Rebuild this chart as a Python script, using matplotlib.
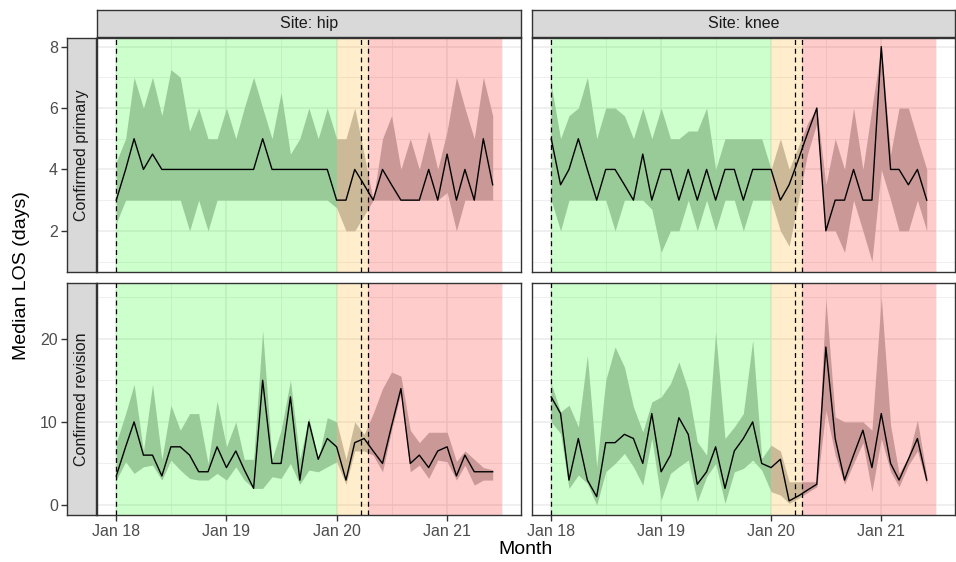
import numpy as np
import pandas as pd
import matplotlib
matplotlib.use("Agg")
import matplotlib.pyplot as plt
import matplotlib.dates as mdates
from matplotlib.ticker import FixedLocator

plt.rcParams["font.family"] = ["Liberation Sans", "DejaVu Sans"]

# monthly series, Jan 2018 - Jun 2021
months = pd.date_range("2018-01-01", periods=42, freq="MS")

sites = ["hip", "knee"]
procedures = ["Confirmed primary", "Confirmed revision"]

# median LOS with lower / upper band (days)
hip_primary_med = [3, 4, 5, 4, 4.5, 4, 4, 4, 4, 4, 4, 4, 4, 4, 4, 4, 5, 4, 4, 4, 4,
                   4, 4, 4, 3, 3, 4, 3.5, 3, 4, 3.5, 3, 3, 3, 4, 3, 4.5, 3, 4, 3, 5, 3.5]
hip_primary_lo = [2.25, 3, 3, 3, 3, 3, 3, 3, 2, 3, 2, 3, 3, 3, 3, 3, 3, 3, 3, 3, 3,
                  3, 3, 3, 2.75, 2, 2, 2.5, 3, 3, 3, 3, 3, 3, 3, 3, 3.25, 2, 3, 3, 3, 3]
hip_primary_hi = [4.25, 5, 7, 6, 7, 5.75, 7.25, 7, 5.25, 6, 5, 5, 6, 5, 6, 7, 6, 5, 6.5, 4.5, 5,
                  6, 5, 6, 5, 5, 6, 4.5, 3, 5, 5.75, 4, 5, 4, 5.25, 4, 5.25, 7, 6, 5, 7, 5.75]

knee_primary_med = [5, 3.5, 4, 5, 4, 3, 4, 4, 3.5, 3, 4.5, 3, 4, 4, 3, 4, 3, 4, 3, 4, 4,
                    3, 4, 4, 4, 3, 3.5, 4.33, 5.17, 6, 2, 3, 3, 4, 3, 3, 8, 4, 4, 3.5, 4, 3]
knee_primary_lo = [3, 2, 3, 3, 3, 3, 3, 2, 3, 3, 3, 2.7, 1.3, 2, 2, 3, 2, 3, 2, 3, 3,
                   2, 3, 3, 3, 2, 1.5, 3, 4.5, 5.5, 2, 2, 1.3, 3, 2, 1, 4, 3, 2, 2, 3, 2]
knee_primary_hi = [6.75, 5, 5.75, 6, 7, 5, 6, 6, 5.75, 5, 6, 5, 6, 5, 5, 5.25, 5.25, 6, 4, 5, 5,
                   5, 5, 5, 4, 5, 4, 4.75, 5.5, 6, 3.5, 5, 4, 6, 4, 6, 8, 4.5, 6, 6, 5, 4]

hip_revision_med = [3.5, 7, 10, 6, 6, 3.5, 7, 7, 6, 4, 4, 7, 4.5, 6.5, 4.25, 2, 15, 5, 5, 13, 3,
                    10, 5.5, 8, 7, 3, 7.5, 8, 6.5, 5, 9.5, 14, 5, 6, 4.5, 6.5, 7, 3.5, 6, 4, 4, 4]
hip_revision_lo = [3, 5.2, 3.8, 4.6, 4.8, 3, 5.4, 4.2, 3.2, 3, 3, 3.8, 3, 4.6, 3, 2, 2, 3.4, 3.2, 5, 2.5,
                   4.2, 4, 4.6, 5.2, 2.5, 6.5, 6.5, 6, 4, 9, 13.5, 4, 4.8, 3.2, 5.4, 5.2, 3, 4.8, 2.4, 3, 3]
hip_revision_hi = [7.5, 11, 14.5, 6.5, 14.5, 5.5, 12, 9, 11, 11, 5, 12.5, 7, 10, 5.5, 5.5, 21, 5.5, 9, 15, 5.5,
                   10.5, 5.5, 10.5, 10, 5.5, 10, 8.5, 11, 14, 16, 15.5, 9, 7.5, 8.75, 8.75, 8.75, 5.25, 6.5, 5.5, 4.5, 4.25]

knee_revision_med = [13, 11, 3, 8, 3, 1, 7.5, 7.5, 8.5, 8, 5, 11, 4, 6, 10.5, 8.5, 2.5, 4, 7, 2, 6.5,
                     8, 10, 5, 4.5, 5.5, 0.5, 1.1, 1.8, 2.5, 19, 8, 3, 6, 9, 4.5, 11, 5, 3, 5.5, 8, 3]
knee_revision_lo = [10, 8.6, 2, 3.6, 2.6, 0, 4, 5, 6.2, 4.6, 2.4, 8, 0.6, 3.8, 4.6, 5.4, 0.4, 3.4, 5, 0.2, 4,
                    4.4, 5.4, 4.2, 1.6, 1.2, 0.2, 0.8, 1.5, 2.2, 11.4, 6, 2.5, 5, 7.5, 1.6, 8, 4, 2.2, 4.8, 6.5, 2.5]
knee_revision_hi = [14.6, 11.2, 12, 9.4, 18, 4.6, 15, 19, 16.6, 11.8, 8.8, 12.4, 13, 14.6, 17.2, 13.8, 7.6, 6, 20.8, 8, 9.4,
                    11, 19.8, 5.6, 7.2, 6.5, 2.8, 2.8, 2.8, 2.8, 24.8, 10.6, 10, 10, 10, 9, 25, 9.6, 3.8, 5.8, 10.2, 3.5]

series = {
    ("Confirmed primary", "hip"): (hip_primary_med, hip_primary_lo, hip_primary_hi),
    ("Confirmed primary", "knee"): (knee_primary_med, knee_primary_lo, knee_primary_hi),
    ("Confirmed revision", "hip"): (hip_revision_med, hip_revision_lo, hip_revision_hi),
    ("Confirmed revision", "knee"): (knee_revision_med, knee_revision_lo, knee_revision_hi),
}

# periods: before covid, first wave, after
period_start = pd.Timestamp("2018-01-01")
wave_start = pd.Timestamp("2020-01-01")
lockdown = pd.Timestamp("2020-03-22")
recovery = pd.Timestamp("2020-04-14")
period_end = pd.Timestamp("2021-07-01")

row_ylim = {"Confirmed primary": (0.66, 8.28), "Confirmed revision": (-1.2, 26.7)}
row_major = {"Confirmed primary": [2, 4, 6, 8], "Confirmed revision": [0, 10, 20]}
row_minor = {"Confirmed primary": [1, 3, 5, 7], "Confirmed revision": [5, 15, 25]}

W, H = 956, 562
fig = plt.figure(figsize=(W / 100, H / 100), dpi=100)


def px_box(x0, y0, x1, y1):
    return [x0 / W, 1 - y1 / H, (x1 - x0) / W, (y1 - y0) / H]


col_px = [(97, 521), (532, 955)]
row_px = [(38, 272), (283, 515)]

x = mdates.date2num(months.to_pydatetime())
d0 = mdates.date2num(period_start.to_pydatetime())
d1 = mdates.date2num(period_end.to_pydatetime())
pad = 0.05 * (d1 - d0)
years = mdates.date2num([pd.Timestamp(f"{y}-01-01").to_pydatetime() for y in range(2018, 2022)])
halves = mdates.date2num([pd.Timestamp(f"{y}-07-01").to_pydatetime() for y in range(2018, 2022)])

dark = "#333333"
tick_col = "#4D4D4D"

for r, proc in enumerate(procedures):
    y0, y1 = row_px[r]
    for c, site in enumerate(sites):
        x0, x1 = col_px[c]
        ax = fig.add_axes(px_box(x0, y0, x1, y1))
        med, lo, hi = series[(proc, site)]

        ax.set_xlim(d0 - pad, d1 + pad)
        ax.set_ylim(*row_ylim[proc])
        ax.xaxis.set_major_locator(FixedLocator(years))
        ax.xaxis.set_minor_locator(FixedLocator(halves))
        ax.yaxis.set_major_locator(FixedLocator(row_major[proc]))
        ax.yaxis.set_minor_locator(FixedLocator(row_minor[proc]))
        ax.set_axisbelow(True)
        ax.grid(which="major", color="#EBEBEB", lw=1.1)
        ax.grid(which="minor", color="#EBEBEB", lw=0.55)

        # ribbon first, period shading laid over it
        ax.fill_between(x, lo, hi, color="#BFBFBF", lw=0, zorder=1)
        ax.axvspan(period_start, wave_start, color="#00FF00", alpha=0.2, lw=0, zorder=2)
        ax.axvspan(wave_start, recovery, color="#FFA500", alpha=0.2, lw=0, zorder=2)
        ax.axvspan(recovery, period_end, color="#FF0000", alpha=0.2, lw=0, zorder=2)

        ax.plot(x, med, color="black", lw=1.0, zorder=3)
        for d in [period_start, lockdown, recovery]:
            ax.axvline(mdates.date2num(d.to_pydatetime()), color="black", lw=0.9,
                       ls=(0, (4, 3)), zorder=4)

        ax.tick_params(which="both", left=False, labelleft=False,
                       bottom=False, labelbottom=False)
        if r == 1:
            ax.xaxis.set_major_formatter(mdates.DateFormatter("%b %y"))
            ax.tick_params(which="major", bottom=True, labelbottom=True, length=4.5,
                           width=1, color=dark, labelcolor=tick_col, labelsize=11.5, pad=2)
        for s in ax.spines.values():
            s.set_color(dark)
            s.set_linewidth(1.0)

        # site strip on top
        if r == 0:
            sax = fig.add_axes(px_box(x0, 10, x1, 37))
            sax.set_facecolor("#D9D9D9")
            sax.set_xticks([])
            sax.set_yticks([])
            for s in sax.spines.values():
                s.set_color(dark)
                s.set_linewidth(1.0)
            sax.text(0.5, 0.5, f"Site: {site}", ha="center", va="center",
                     fontsize=11.5, color="#1A1A1A", transform=sax.transAxes)

    # procedure strip on the left, carrying the y axis
    lax = fig.add_axes(px_box(67, y0, 96, y1))
    lax.set_facecolor("#D9D9D9")
    lax.set_ylim(*row_ylim[proc])
    lax.set_xticks([])
    lax.yaxis.set_major_locator(FixedLocator(row_major[proc]))
    lax.tick_params(axis="y", length=4.5, width=1, color=dark, labelcolor=tick_col,
                    labelsize=11.5, pad=2)
    for s in lax.spines.values():
        s.set_color(dark)
        s.set_linewidth(1.0)
    lax.text(0.5, 0.5, proc, rotation=90, ha="center", va="center",
             fontsize=11.5, color="#1A1A1A", transform=lax.transAxes)

fig.text(526 / W, 1 - 549 / H, "Month", ha="center", va="center", fontsize=14)
fig.text(22 / W, 1 - 276 / H, "Median LOS (days)", ha="center", va="center",
         rotation=90, fontsize=14)

fig.savefig("out.png", dpi=100)
